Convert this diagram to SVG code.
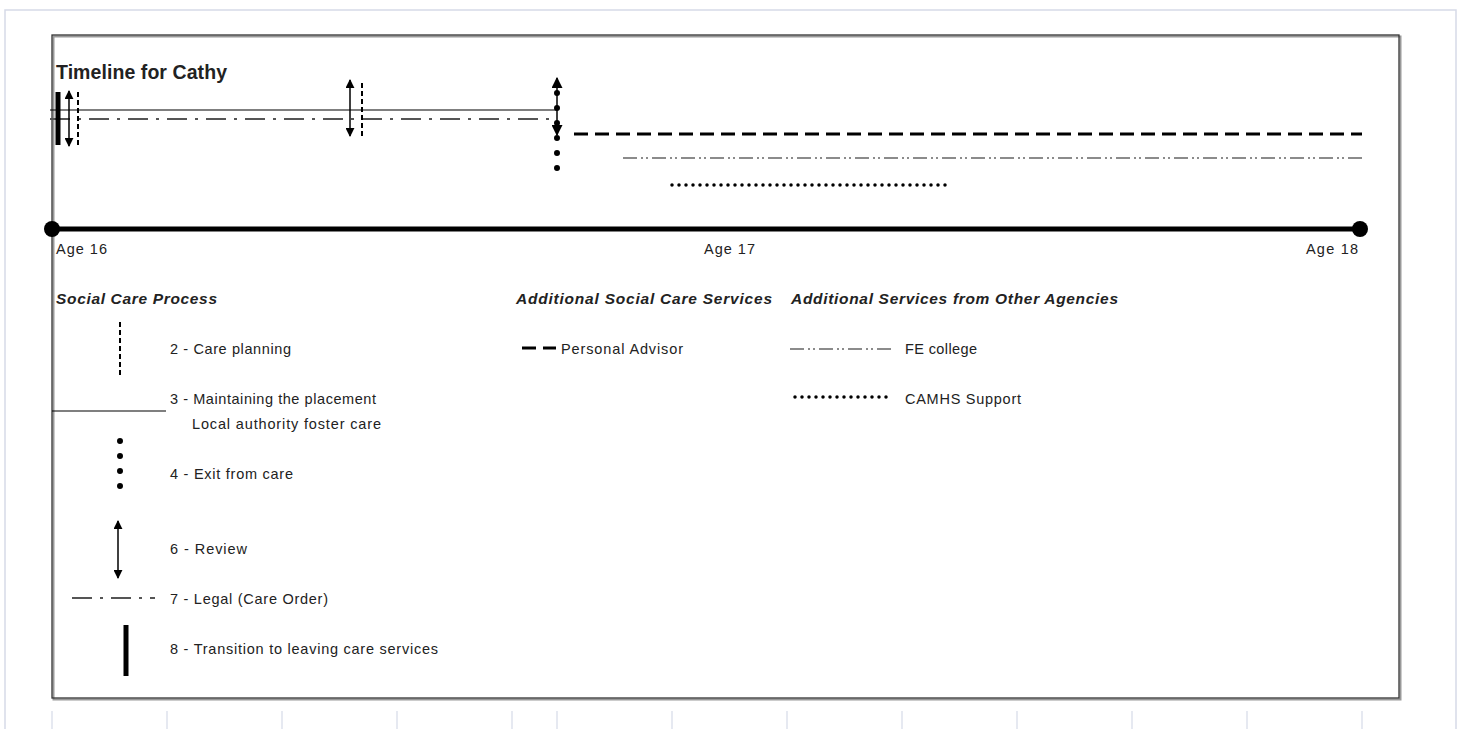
<svg xmlns="http://www.w3.org/2000/svg" width="1464" height="729" viewBox="0 0 1464 729">
<defs>
<style>
text{font-family:"Liberation Sans",Arial,sans-serif;font-size:14.5px;fill:#222}
.title{font-size:19.5px;font-weight:bold}
.head{font-size:15.5px;font-weight:bold;font-style:italic}
.frame{fill:none;stroke:#d6dae8;stroke-width:1.5}
.plan{stroke:#000;stroke-width:2;stroke-dasharray:5 3}
.place{stroke:#000;stroke-width:1.2}
.legal{stroke:#555;stroke-width:2;stroke-dasharray:20 8 3 8}
.exit{stroke:#000;stroke-width:6;stroke-linecap:round;stroke-dasharray:0 15}
.review{stroke:#000;stroke-width:1.5}
.trans{stroke:#000;stroke-width:5}
.pa{stroke:#000;stroke-width:3;stroke-dasharray:14 7}
.fe{stroke:#666;stroke-width:1.5;stroke-dasharray:14 4 2 3 2 4}
.camhs{stroke:#000;stroke-width:3.5;stroke-linecap:round;stroke-dasharray:0 7}
</style>
<marker id="ah" viewBox="0 0 10 10" refX="9" refY="5" markerWidth="9" markerHeight="9" markerUnits="userSpaceOnUse" orient="auto-start-reverse"><path d="M0,0 L10,5 L0,10 Z" fill="#000"/></marker>
<marker id="ah2" viewBox="0 0 10 10" refX="9" refY="5" markerWidth="11" markerHeight="11" markerUnits="userSpaceOnUse" orient="auto-start-reverse"><path d="M0,0 L10,5 L0,10 Z" fill="#000"/></marker>
</defs>
<rect width="1464" height="729" fill="#fff"/>
<g id="page-frame">
<path class="frame" d="M5,729 V10 H1456 V729"/>
<g stroke="#d6dae8" stroke-width="1.2">
<line x1="52" y1="711" x2="52" y2="729"/><line x1="167" y1="711" x2="167" y2="729"/><line x1="282" y1="711" x2="282" y2="729"/><line x1="397" y1="711" x2="397" y2="729"/><line x1="512" y1="711" x2="512" y2="729"/><line x1="557" y1="711" x2="557" y2="729"/><line x1="672" y1="711" x2="672" y2="729"/><line x1="787" y1="711" x2="787" y2="729"/><line x1="902" y1="711" x2="902" y2="729"/><line x1="1017" y1="711" x2="1017" y2="729"/><line x1="1132" y1="711" x2="1132" y2="729"/><line x1="1247" y1="711" x2="1247" y2="729"/><line x1="1362" y1="711" x2="1362" y2="729"/>
</g>
</g>
<g id="main-box">
<rect x="53.5" y="36.5" width="1347" height="663" fill="none" stroke="#999" stroke-width="2"/>
<rect x="52" y="35" width="1347" height="663" fill="none" stroke="#333" stroke-width="1.3"/>
<text class="title" x="56" y="79" textLength="171" lengthAdjust="spacing">Timeline for Cathy</text>
</g>
<g id="timeline-axis">
<line x1="52" y1="229" x2="1360" y2="229" stroke="#000" stroke-width="5"/>
<circle cx="52" cy="229" r="8" fill="#000"/>
<circle cx="1360" cy="229" r="8" fill="#000"/>
<text x="56" y="254" textLength="51" lengthAdjust="spacing">Age 16</text>
<text x="704" y="254" textLength="51" lengthAdjust="spacing">Age 17</text>
<text x="1306" y="254" textLength="52" lengthAdjust="spacing">Age 18</text>
</g>
<g id="connectors">
<line class="place" x1="50" y1="110" x2="557" y2="110"/>
<line class="legal" x1="50" y1="119" x2="557" y2="119"/>
<line class="trans" x1="58" y1="92" x2="58" y2="145"/>
<line class="review" x1="69" y1="91" x2="69" y2="146" marker-start="url(#ah)" marker-end="url(#ah)"/>
<line class="plan" x1="78" y1="92" x2="78" y2="145"/>
<line class="review" x1="350" y1="80" x2="350" y2="136" marker-start="url(#ah)" marker-end="url(#ah)"/>
<line class="plan" x1="362" y1="83" x2="362" y2="136"/>
<line class="review" x1="557" y1="78" x2="557" y2="135" stroke-width="2" marker-start="url(#ah2)" marker-end="url(#ah2)"/>
<line class="exit" x1="557" y1="93" x2="557" y2="170"/>
<line class="pa" x1="574" y1="134" x2="1362" y2="134"/>
<line class="fe" x1="623" y1="158" x2="1362" y2="158"/>
<line class="camhs" x1="672" y1="185" x2="948" y2="185"/>
</g>
<g id="legend-social-care">
<text class="head" x="56" y="304" textLength="161" lengthAdjust="spacing">Social Care Process</text>
<line class="plan" x1="120" y1="322" x2="120" y2="375"/>
<text x="170" y="354" textLength="121" lengthAdjust="spacing">2 - Care planning</text>
<line class="place" x1="52" y1="411" x2="166" y2="411"/>
<text x="170" y="404" textLength="206" lengthAdjust="spacing">3 - Maintaining the placement</text>
<text x="192" y="429" textLength="189" lengthAdjust="spacing">Local authority foster care</text>
<line class="exit" x1="120" y1="441" x2="120" y2="488"/>
<text x="170" y="479" textLength="123" lengthAdjust="spacing">4 - Exit from care</text>
<line class="review" x1="118" y1="521" x2="118" y2="578" marker-start="url(#ah)" marker-end="url(#ah)"/>
<text x="170" y="554" textLength="77" lengthAdjust="spacing">6 - Review</text>
<line class="legal" x1="72" y1="598" x2="155" y2="598"/>
<text x="170" y="604" textLength="158" lengthAdjust="spacing">7 - Legal (Care Order)</text>
<line class="trans" x1="126" y1="625" x2="126" y2="676"/>
<text x="170" y="654" textLength="268" lengthAdjust="spacing">8 - Transition to leaving care services</text>
</g>
<g id="legend-additional">
<text class="head" x="516" y="304" textLength="256" lengthAdjust="spacing">Additional Social Care Services</text>
<line class="pa" x1="522" y1="348" x2="556" y2="348" stroke-dasharray="12 8"/>
<text x="561" y="354" textLength="122" lengthAdjust="spacing">Personal Advisor</text>
</g>
<g id="legend-other-agencies">
<text class="head" x="791" y="304" textLength="327" lengthAdjust="spacing">Additional Services from Other Agencies</text>
<line class="fe" x1="790" y1="349" x2="892" y2="349"/>
<text x="905" y="354" textLength="72" lengthAdjust="spacing">FE college</text>
<line class="camhs" x1="795" y1="397" x2="893" y2="397" stroke-width="3"/>
<text x="905" y="404" textLength="116" lengthAdjust="spacing">CAMHS Support</text>
</g>
</svg>
